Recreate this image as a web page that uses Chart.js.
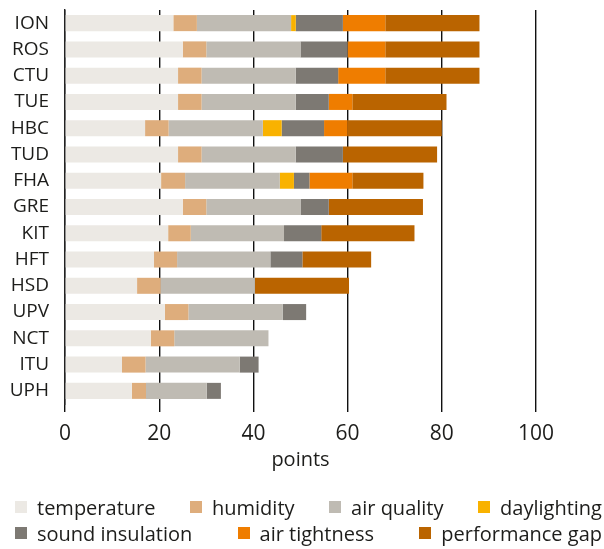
<!DOCTYPE html>
<html>
<head>
<meta charset="utf-8">
<script src="https://cdn.jsdelivr.net/npm/chart.js@4.4.1/dist/chart.umd.min.js"></script>
<style>
  html, body { margin: 0; padding: 0; background: #ffffff; }
  #wrap { width: 604px; height: 549px; position: relative; overflow: hidden; }
  #legend { position: absolute; left: 15px; right: 2px; top: 494px;
            font-family: "Open Sans", sans-serif; font-size: 20px; color: #1d1d1b; }
  #legend .row { display: flex; justify-content: space-between; align-items: center; height: 26px; }
  #legend .item { display: flex; align-items: center; white-space: nowrap; }
  #legend .box { width: 12px; height: 12px; margin-right: 10px; flex: none; }
</style>
</head>
<body>
<div id="wrap">
  <canvas id="c" width="604" height="549"></canvas>
  <div id="legend"></div>
</div>
<script>
const categories = ['ION','ROS','CTU','TUE','HBC','TUD','FHA','GRE','KIT','HFT','HSD','UPV','NCT','ITU','UPH'];
const temperature  = [23, 25, 24, 24, 17, 24, 20.4, 25, 21.9, 18.9, 15.3, 21.2, 18.2, 12.1, 14.2];
const humidity     = [5, 5, 5, 5, 5, 5, 5.1, 5, 4.8, 4.9, 5, 5, 5, 5, 3];
const airQuality   = [20, 20, 20, 20, 20, 20, 20.1, 20, 19.8, 19.8, 20, 20, 20, 20, 12.9];
const daylighting  = [1, 0, 0, 0, 4, 0, 3, 0, 0, 0, 0, 0, 0, 0, 0];
const soundInsulation = [10, 10, 9, 7, 9, 10, 3.3, 6, 7.9, 6.8, 0, 5, 0, 4, 3];
const airTightness = [9, 8, 10, 5, 5, 0, 9.1, 0, 0, 0, 0, 0, 0, 0, 0];
const performanceGap = [20, 20, 20, 20, 20, 20, 15.1, 20, 19.8, 14.6, 20, 0, 0, 0, 0];
const xTicks = [0, 20, 40, 60, 80, 100];

const seriesNames = ['temperature','humidity','air quality','daylighting','sound insulation','air tightness','performance gap'];
const seriesData = [temperature, humidity, airQuality, daylighting, soundInsulation, airTightness, performanceGap];
const seriesColors = ['#ECE9E4','#DEAD7C','#BFBBB3','#F9B200','#7D7973','#EF7D00','#BA6400'];
const legendRows = [[0, 1, 2, 3], [4, 5, 6]];

const FONT = '"Open Sans", Lato, sans-serif';
const TEXT = '#1d1d1b';

const chart = new Chart(document.getElementById('c'), {
  type: 'bar',
  data: {
    labels: categories,
    datasets: seriesNames.map((n, i) => ({
      label: n,
      data: seriesData[i],
      backgroundColor: seriesColors[i],
      borderWidth: 0,
      barPercentage: 0.61,
      categoryPercentage: 1.0,
      stack: 's'
    }))
  },
  options: {
    indexAxis: 'y',
    responsive: false,
    animation: false,
    devicePixelRatio: 1,
    layout: { padding: { top: 10, left: 0, right: 0, bottom: 60 } },
    plugins: {
      tooltip: { enabled: false },
      legend: { display: false }
    },
    scales: {
      x: {
        type: 'linear',
        stacked: true,
        min: 0,
        max: 100,
        afterBuildTicks: (s) => { s.ticks = xTicks.map(v => ({ value: v })); },
        grid: {
          color: '#111111',
          lineWidth: 1.4,
          tickLength: 8,
          drawTicks: true
        },
        border: { display: false },
        ticks: {
          color: TEXT,
          font: { family: FONT, size: 21, lineHeight: 1.0 },
          padding: 12,
          maxRotation: 0
        },
        title: {
          display: true,
          text: 'points',
          color: TEXT,
          font: { family: FONT, size: 20, lineHeight: 0.3 },
          padding: { top: 0, bottom: 26 }
        }
      },
      y: {
        type: 'category',
        stacked: true,
        afterFit: (s) => { s.width = 65; s.paddingTop = 0; s.paddingBottom = 0; },
        grid: { display: false, drawTicks: false },
        border: { display: true, color: '#222222', width: 1.4 },
        ticks: {
          color: TEXT,
          font: { family: FONT, size: 19 },
          padding: 16,
          autoSkip: false
        }
      },
      yRight: {
        type: 'category',
        position: 'right',
        afterFit: (s) => { s.width = 68; s.paddingTop = 0; s.paddingBottom = 0; },
        grid: { display: false, drawTicks: false },
        border: { display: false },
        ticks: { display: false }
      }
    }
  }
});

// HTML legend built from the chart's datasets
const legendEl = document.getElementById('legend');
legendRows.forEach(row => {
  const r = document.createElement('div');
  r.className = 'row';
  row.forEach(i => {
    const ds = chart.data.datasets[i];
    const it = document.createElement('div');
    it.className = 'item';
    const b = document.createElement('span');
    b.className = 'box';
    b.style.background = ds.backgroundColor;
    const t = document.createElement('span');
    t.textContent = ds.label;
    it.appendChild(b);
    it.appendChild(t);
    r.appendChild(it);
  });
  legendEl.appendChild(r);
});
</script>
</body>
</html>
